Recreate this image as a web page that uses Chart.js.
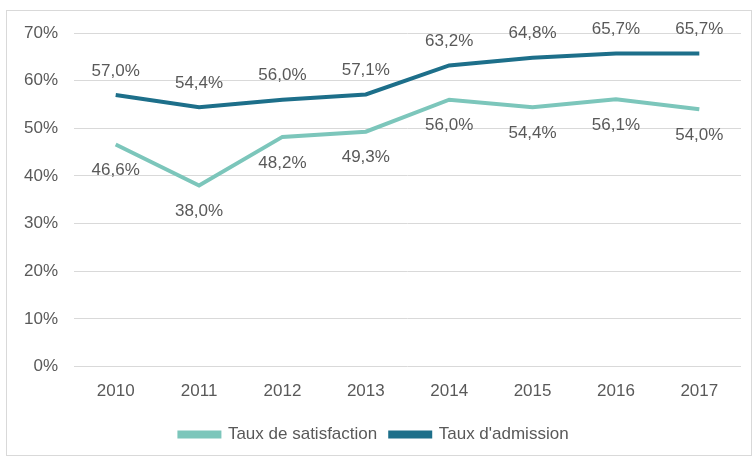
<!DOCTYPE html>
<html>
<head>
<meta charset="utf-8">
<script src="https://cdn.jsdelivr.net/npm/chart.js@4"></script>
<style>
  html, body { margin: 0; padding: 0; background: #fff; }
  #frame {
    position: absolute; left: 6px; top: 10px;
    width: 744px; height: 444px;
    border: 1px solid #d9d9d9;
  }
  #frame canvas { display: block; }
</style>
</head>
<body>
<div id="frame"><canvas id="chart" width="744" height="444"></canvas></div>
<script>
// Data
const years = ['2010', '2011', '2012', '2013', '2014', '2015', '2016', '2017'];
const satisfaction = [46.6, 38.0, 48.2, 49.3, 56.0, 54.4, 56.1, 54.0];
const admission = [57.0, 54.4, 56.0, 57.1, 63.2, 64.8, 65.7, 65.7];
const yTicks = [0, 10, 20, 30, 40, 50, 60, 70];

const textColor = '#595959';
const fontFamily = '"Liberation Sans", Arial, sans-serif';

const fmt = v => v.toFixed(1).replace('.', ',') + '%';

// Point labels: admission above, satisfaction below
const pointLabels = {
    id: 'pointLabels',
    afterDatasetsDraw(chart) {
        const ctx = chart.ctx;
        ctx.save();
        ctx.font = '17px ' + fontFamily;
        ctx.fillStyle = textColor;
        ctx.textAlign = 'center';
        ctx.textBaseline = 'middle';
        chart.data.datasets.forEach((ds, i) => {
            const meta = chart.getDatasetMeta(i);
            const dy = ds.labelPos === 'above' ? -24 : 26;
            meta.data.forEach((pt, j) => {
                ctx.fillText(fmt(ds.data[j]), pt.x, pt.y + dy);
            });
        });
        ctx.restore();
    }
};

new Chart(document.getElementById('chart'), {
    type: 'line',
    data: {
        labels: years,
        datasets: [
            {
                label: 'Taux de satisfaction',
                data: satisfaction,
                borderColor: '#7cc6bb',
                backgroundColor: '#7cc6bb',
                borderWidth: 4,
                pointRadius: 0,
                labelPos: 'below'
            },
            {
                label: "Taux d'admission",
                data: admission,
                borderColor: '#1d6f8a',
                backgroundColor: '#1d6f8a',
                borderWidth: 4,
                pointRadius: 0,
                labelPos: 'above'
            }
        ]
    },
    options: {
        responsive: false,
        animation: false,
        layout: { padding: { top: 22, right: 10, left: 0, bottom: 2 } },
        plugins: {
            tooltip: { enabled: false },
            legend: {
                position: 'bottom',
                labels: {
                    color: textColor,
                    font: { size: 17, family: fontFamily },
                    boxWidth: 40,
                    boxHeight: 4,
                    padding: 13
                }
            }
        },
        scales: {
            x: {
                offset: true,
                afterFit: axis => { axis.height += 4; },
                grid: { display: false },
                border: { display: false },
                ticks: { color: textColor, font: { size: 17, family: fontFamily }, padding: 7 }
            },
            y: {
                min: 0,
                max: 70,
                afterBuildTicks: axis => { axis.ticks = yTicks.map(v => ({ value: v })); },
                afterFit: axis => {
                    axis.width = 67;
                    axis.paddingTop = 0;
                    axis.paddingBottom = 0;
                },
                grid: { color: '#d9d9d9', drawTicks: false },
                border: { display: false },
                ticks: {
                    color: textColor,
                    font: { size: 17, family: fontFamily },
                    padding: 16,
                    callback: v => v + '%'
                }
            }
        }
    },
    plugins: [pointLabels]
});
</script>
</body>
</html>
